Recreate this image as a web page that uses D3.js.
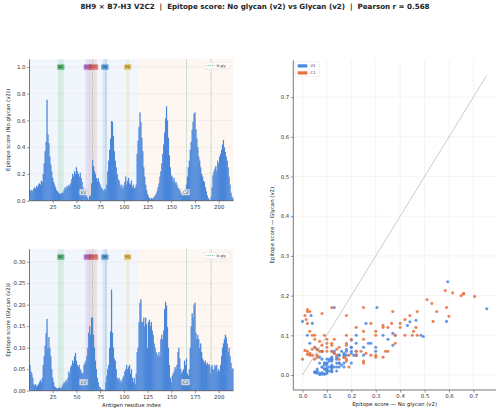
<!DOCTYPE html>
<html><head><meta charset="utf-8">
<script src="https://cdn.jsdelivr.net/npm/d3@7"></script>
<style>body{margin:0;background:#fff}svg{display:block;font-family:"DejaVu Sans",sans-serif}</style>
</head><body><svg id="c" width="500" height="413"></svg>
<script>
const residues = d3.range(1, 216);
const noGlycan = [
0.08,0.07,0.08,0.07,0.09,0.10,0.09,0.11,0.10,0.12,
0.13,0.12,0.15,0.14,0.20,0.28,0.37,0.44,0.755,0.495,
0.43,0.33,0.27,0.22,0.17,0.14,0.12,0.10,0.08,0.07,
0.06,0.05,0.055,0.05,0.06,0.06,0.08,0.10,0.09,0.11,
0.10,0.12,0.11,0.13,0.16,0.20,0.18,0.22,0.20,0.25,
0.22,0.20,0.18,0.21,0.17,0.14,0.10,0.08,0.06,0.05,
0.03,0.02,0.00,0.035,0.04,0.13,0.305,0.26,0.22,0.20,
0.17,0.15,0.17,0.14,0.12,0.10,0.09,0.08,0.07,0.09,
0.08,0.12,0.22,0.30,0.38,0.465,0.595,0.59,0.485,0.37,
0.30,0.25,0.20,0.16,0.15,0.12,0.10,0.12,0.09,0.11,
0.14,0.18,0.12,0.15,0.17,0.13,0.12,0.15,0.10,0.12,
0.09,0.10,0.12,0.35,0.45,0.55,0.66,0.585,0.47,0.37,
0.25,0.18,0.12,0.08,0.05,0.03,0.02,0.01,0.02,0.015,
0.02,0.03,0.04,0.05,0.07,0.10,0.13,0.18,0.22,0.28,
0.35,0.42,0.51,0.615,0.705,0.60,0.47,0.34,0.25,0.19,
0.18,0.15,0.17,0.13,0.14,0.12,0.10,0.09,0.08,0.06,
0.05,0.06,0.04,0.05,0.08,0.12,0.18,0.25,0.30,0.38,
0.44,0.53,0.59,0.65,0.66,0.535,0.465,0.40,0.33,0.30,
0.25,0.20,0.18,0.15,0.14,0.10,0.07,0.04,0.02,0.01,
0.00,0.03,0.10,0.19,0.22,0.24,0.26,0.22,0.30,0.28,
0.33,0.35,0.38,0.42,0.455,0.40,0.365,0.33,0.30,0.25,
0.18,0.12,0.06,0.03,0.02];
const glycan = [
0.06,0.045,0.04,0.03,0.015,0.012,0.015,0.01,0.012,0.015,
0.02,0.025,0.02,0.03,0.06,0.08,0.105,0.134,0.167,0.097,
0.125,0.10,0.08,0.05,0.03,0.02,0.01,0.008,0.006,0.005,
0.006,0.008,0.005,0.007,0.01,0.015,0.02,0.018,0.025,0.02,
0.03,0.045,0.04,0.055,0.06,0.07,0.065,0.08,0.088,0.07,
0.06,0.055,0.06,0.05,0.045,0.04,0.04,0.06,0.065,0.07,
0.08,0.10,0.135,0.15,0.13,0.17,0.17,0.13,0.10,0.07,
0.05,0.03,0.02,0.01,0.008,0.004,0.003,0.002,0.001,0.002,
0.02,0.035,0.05,0.06,0.10,0.138,0.235,0.135,0.10,0.075,
0.07,0.05,0.03,0.025,0.03,0.02,0.025,0.02,0.03,0.035,
0.045,0.05,0.06,0.05,0.055,0.06,0.04,0.05,0.03,0.02,
0.03,0.015,0.04,0.09,0.10,0.16,0.205,0.213,0.16,0.16,
0.17,0.15,0.17,0.155,0.10,0.16,0.165,0.15,0.16,0.14,
0.13,0.11,0.10,0.09,0.085,0.08,0.09,0.08,0.12,0.13,
0.12,0.14,0.19,0.207,0.198,0.148,0.10,0.06,0.03,0.02,
0.035,0.04,0.045,0.055,0.05,0.06,0.09,0.10,0.075,0.05,
0.04,0.045,0.05,0.07,0.06,0.075,0.04,0.035,0.05,0.10,
0.15,0.18,0.17,0.20,0.205,0.135,0.12,0.13,0.12,0.10,
0.11,0.09,0.075,0.07,0.065,0.07,0.06,0.065,0.06,0.062,
0.04,0.055,0.06,0.05,0.05,0.06,0.055,0.06,0.045,0.05,
0.045,0.06,0.08,0.10,0.11,0.12,0.13,0.125,0.11,0.09,
0.10,0.08,0.065,0.05,0.052];
const domainNames = ["V2", "C2"];
const domainRanges = [[1, 114], [115, 215]];
const scatterGroups = ["V1", "C1"];
const loopNames = ["BC", "CC'", "C'C''", "DE", "FG"];
const loopRanges = [[31, 36], [60, 64], [64, 71], [78, 82], [103, 105]];
const nGlySites = [67, 81, 166, 192];
const pearsonR = 0.568;
const xTicks = [25, 50, 75, 100, 125, 150, 175, 200];
const topYTicks = [0, 0.2, 0.4, 0.6, 0.8, 1.0];
const botYTicks = [0, 0.05, 0.10, 0.15, 0.20, 0.25, 0.30];
const scatterTicks = [0, 0.1, 0.2, 0.3, 0.4, 0.5, 0.6, 0.7];

const barColor = "#4a86da";
const domainFill = ["#4a90e2", "#f5a05a"];
const loopColors = ["#3aaa5c", "#9b59d0", "#e05555", "#3a8fd8", "#e0b030"];
const glyColor = "#4aa89a";
const groupColors = ["#4a86e0", "#e5703c"];
const svg = d3.select("#c");
const FS = 5.4;

// title
const title = svg.append("text").attr("x", 255).attr("y", 9).attr("text-anchor", "middle")
  .style("white-space", "pre").attr("xml:space", "preserve")
  .attr("font-weight", "bold").attr("font-size", 7).attr("fill", "#222")
  .text(`8H9 × B7-H3 V2C2  |  Epitope score: No glycan (v2) vs Glycan (v2)  |  Pearson r = ${pearsonR.toFixed(3)}`);
const tw = title.node().getComputedTextLength();
title.attr("font-size", 7 * 350 / tw);

function styleAxis(g) {
  g.selectAll("path.domain").attr("stroke", "#555").attr("stroke-width", 0.8);
  g.selectAll(".tick line").attr("stroke", "#555").attr("stroke-width", 0.6);
  g.selectAll(".tick text").attr("fill", "#333").attr("font-size", FS).attr("font-family", "DejaVu Sans");
}

const L = 29.5, R = 233.4;
const x = d3.scaleLinear().domain([0.5, 215.5]).range([L, R]);

function barPanel(data, T, B, yTicks, fmt, ylabel, xlabel) {
  const ymax = d3.max(data) * 1.4;
  const y = d3.scaleLinear().domain([0, ymax]).range([B, T]);
  const g = svg.append("g");
  domainRanges.forEach((d, i) => {
    g.append("rect").attr("x", x(d[0] - 0.5)).attr("width", x(d[1] + 0.5) - x(d[0] - 0.5))
      .attr("y", T).attr("height", B - T).attr("fill", domainFill[i]).attr("opacity", i ? 0.09 : 0.08);
  });
  g.selectAll(".gy").data(yTicks).join("line").attr("x1", L).attr("x2", R)
    .attr("y1", d => y(d)).attr("y2", d => y(d)).attr("stroke", "#e4e4e4").attr("stroke-width", 0.5);
  loopRanges.forEach((d, i) => {
    g.append("rect").attr("x", x(d[0] - 0.5)).attr("width", x(d[1] + 0.5) - x(d[0] - 0.5))
      .attr("y", T).attr("height", B - T).attr("fill", loopColors[i]).attr("opacity", 0.15);
  });
  const bw = x(1.5) - x(0.5);
  g.selectAll(".bar").data(residues).join("rect")
    .attr("x", r => x(r - 0.5) - 0.15).attr("width", bw + 0.3)
    .attr("y", (r, i) => y(data[i])).attr("height", (r, i) => B - y(data[i]))
    .attr("fill", barColor);
  g.selectAll(".ng").data(nGlySites).join("line").attr("x1", d => x(d)).attr("x2", d => x(d))
    .attr("y1", T).attr("y2", B).attr("stroke", glyColor).attr("stroke-width", 0.7)
    .attr("stroke-dasharray", "0.9,0.9").attr("opacity", 0.85);
  const ly = T + (B - T) * (1 - 0.945);
  loopRanges.forEach((d, i) => {
    const cx = x((d[0] + d[1]) / 2);
    const t = g.append("text").attr("x", cx).attr("y", ly + 1.3).attr("text-anchor", "middle")
      .attr("font-size", 3.4).attr("fill", "#222").text(loopNames[i]);
    const w = t.node().getComputedTextLength() + 2.2;
    g.insert("rect", () => t.node()).attr("x", cx - w / 2).attr("y", ly - 2.7).attr("width", w).attr("height", 5.4)
      .attr("rx", 0.8).attr("fill", loopColors[i]).attr("opacity", 0.75)
      .attr("stroke", loopColors[i]).attr("stroke-width", 0.4);
  });
  const dy = B - (B - T) * 0.06;
  domainRanges.forEach((d, i) => {
    const cx = x((d[0] + d[1]) / 2);
    const t = g.append("text").attr("x", cx).attr("y", dy + 1.6).attr("text-anchor", "middle")
      .attr("font-size", 4.6).attr("font-style", "italic").attr("fill", "#555").text(domainNames[i]);
    const w = t.node().getComputedTextLength() + 2.6;
    g.insert("rect", () => t.node()).attr("x", cx - w / 2).attr("y", dy - 3.1).attr("width", w).attr("height", 6.2)
      .attr("rx", 0.8).attr("fill", "#fff").attr("opacity", 0.7).attr("stroke", "#999").attr("stroke-width", 0.4);
  });
  const lg = g.append("g");
  lg.append("rect").attr("x", 204.3).attr("y", T + 3).attr("width", 25.7).attr("height", 6.6)
    .attr("fill", "#fff").attr("opacity", 0.85).attr("stroke", "#d0d0d0").attr("stroke-width", 0.4).attr("rx", 1);
  lg.append("line").attr("x1", 206.5).attr("x2", 214.5).attr("y1", T + 6.3).attr("y2", T + 6.3)
    .attr("stroke", glyColor).attr("stroke-width", 0.8).attr("stroke-dasharray", "0.9,0.9");
  lg.append("text").attr("x", 216.5).attr("y", T + 7.6).attr("font-size", 3.6).attr("fill", "#333").text("N-gly");
  const ax = g.append("g").attr("transform", `translate(0,${B})`)
    .call(d3.axisBottom(x).tickValues(xTicks).tickSize(2.5).tickPadding(1.5).tickFormat(d3.format("d")));
  ax.select("path.domain").attr("d", `M${L},0H${R}`);
  styleAxis(ax);
  const ay = g.append("g").attr("transform", `translate(${L},0)`)
    .call(d3.axisLeft(y).tickValues(yTicks).tickSize(2.5).tickPadding(1.5).tickFormat(fmt));
  ay.select("path.domain").attr("d", `M0,${B}V${T}`);
  styleAxis(ay);
  svg.append("text").attr("transform", `translate(10,${(T + B) / 2}) rotate(-90)`).attr("text-anchor", "middle")
    .attr("font-size", FS).attr("fill", "#222").text(ylabel);
  if (xlabel) svg.append("text").attr("x", (L + R) / 2).attr("y", B + 16).attr("text-anchor", "middle")
    .attr("font-size", FS).attr("fill", "#222").text(xlabel);
}

barPanel(noGlycan, 59.3, 200.7, topYTicks, d3.format(".1f"), "Epitope score (No glycan (v2))", null);
barPanel(glycan, 249.3, 390.7, botYTicks, d3.format(".2f"), "Epitope score (Glycan (v2))", "Antigen residue index");

// scatter
const SL = 293.3, SR = 496, ST = 60.3, SB = 390;
const maxV = Math.max(d3.max(noGlycan), d3.max(glycan));
const sx = d3.scaleLinear().domain([-0.05 * maxV, 1.05 * maxV]).range([SL, SR]);
const sy = d3.scaleLinear().domain([-0.05 * maxV, 1.05 * maxV]).range([SB, ST]);
const sg = svg.append("g");
sg.selectAll(".gx").data(scatterTicks).join("line").attr("x1", d => sx(d)).attr("x2", d => sx(d))
  .attr("y1", ST).attr("y2", SB).attr("stroke", "#e8e8e8").attr("stroke-width", 0.5);
sg.selectAll(".gy").data(scatterTicks).join("line").attr("y1", d => sy(d)).attr("y2", d => sy(d))
  .attr("x1", SL).attr("x2", SR).attr("stroke", "#e8e8e8").attr("stroke-width", 0.5);
sg.append("line").attr("x1", sx(0)).attr("y1", sy(0)).attr("x2", sx(maxV)).attr("y2", sy(maxV))
  .attr("stroke", "#aaa").attr("stroke-width", 0.6);
const pts = residues.map((r, i) => ({ r, x: noGlycan[i], y: glycan[i], g: r <= domainRanges[0][1] ? 0 : 1 }));
sg.selectAll(".pt").data(pts).join("circle").attr("cx", d => sx(d.x)).attr("cy", d => sy(d.y))
  .attr("r", 1.55).attr("fill", d => groupColors[d.g]).attr("opacity", 0.85);
const sax = sg.append("g").attr("transform", `translate(0,${SB})`)
  .call(d3.axisBottom(sx).tickValues(scatterTicks).tickSize(2.5).tickPadding(1.5).tickFormat(d3.format(".1f")));
sax.select("path.domain").attr("d", `M${SL},0H${SR}`);
styleAxis(sax);
const say = sg.append("g").attr("transform", `translate(${SL},0)`)
  .call(d3.axisLeft(sy).tickValues(scatterTicks).tickSize(2.5).tickPadding(1.5).tickFormat(d3.format(".1f")));
say.select("path.domain").attr("d", `M0,${SB}V${ST}`);
styleAxis(say);
svg.append("text").attr("x", (SL + SR) / 2).attr("y", SB + 16).attr("text-anchor", "middle")
  .attr("font-size", FS).attr("fill", "#222").text("Epitope score — No glycan (v2)");
svg.append("text").attr("transform", `translate(273.5,${(ST + SB) / 2}) rotate(-90)`).attr("text-anchor", "middle")
  .attr("font-size", FS).attr("fill", "#222").text("Epitope score — Glycan (v2)");
const slg = sg.append("g");
slg.append("rect").attr("x", 295).attr("y", 61.3).attr("width", 24.3).attr("height", 15.4)
  .attr("fill", "#fff").attr("opacity", 0.85).attr("stroke", "#d0d0d0").attr("stroke-width", 0.4).attr("rx", 1);
scatterGroups.forEach((s, i) => {
  slg.append("rect").attr("x", 297.7).attr("y", 64.3 + i * 7).attr("width", 9.6).attr("height", 3.2)
    .attr("fill", groupColors[i]);
  slg.append("text").attr("x", 310.5).attr("y", 67.4 + i * 7).attr("font-size", 3.8).attr("fill", "#333").text(s);
});
</script></body></html>
